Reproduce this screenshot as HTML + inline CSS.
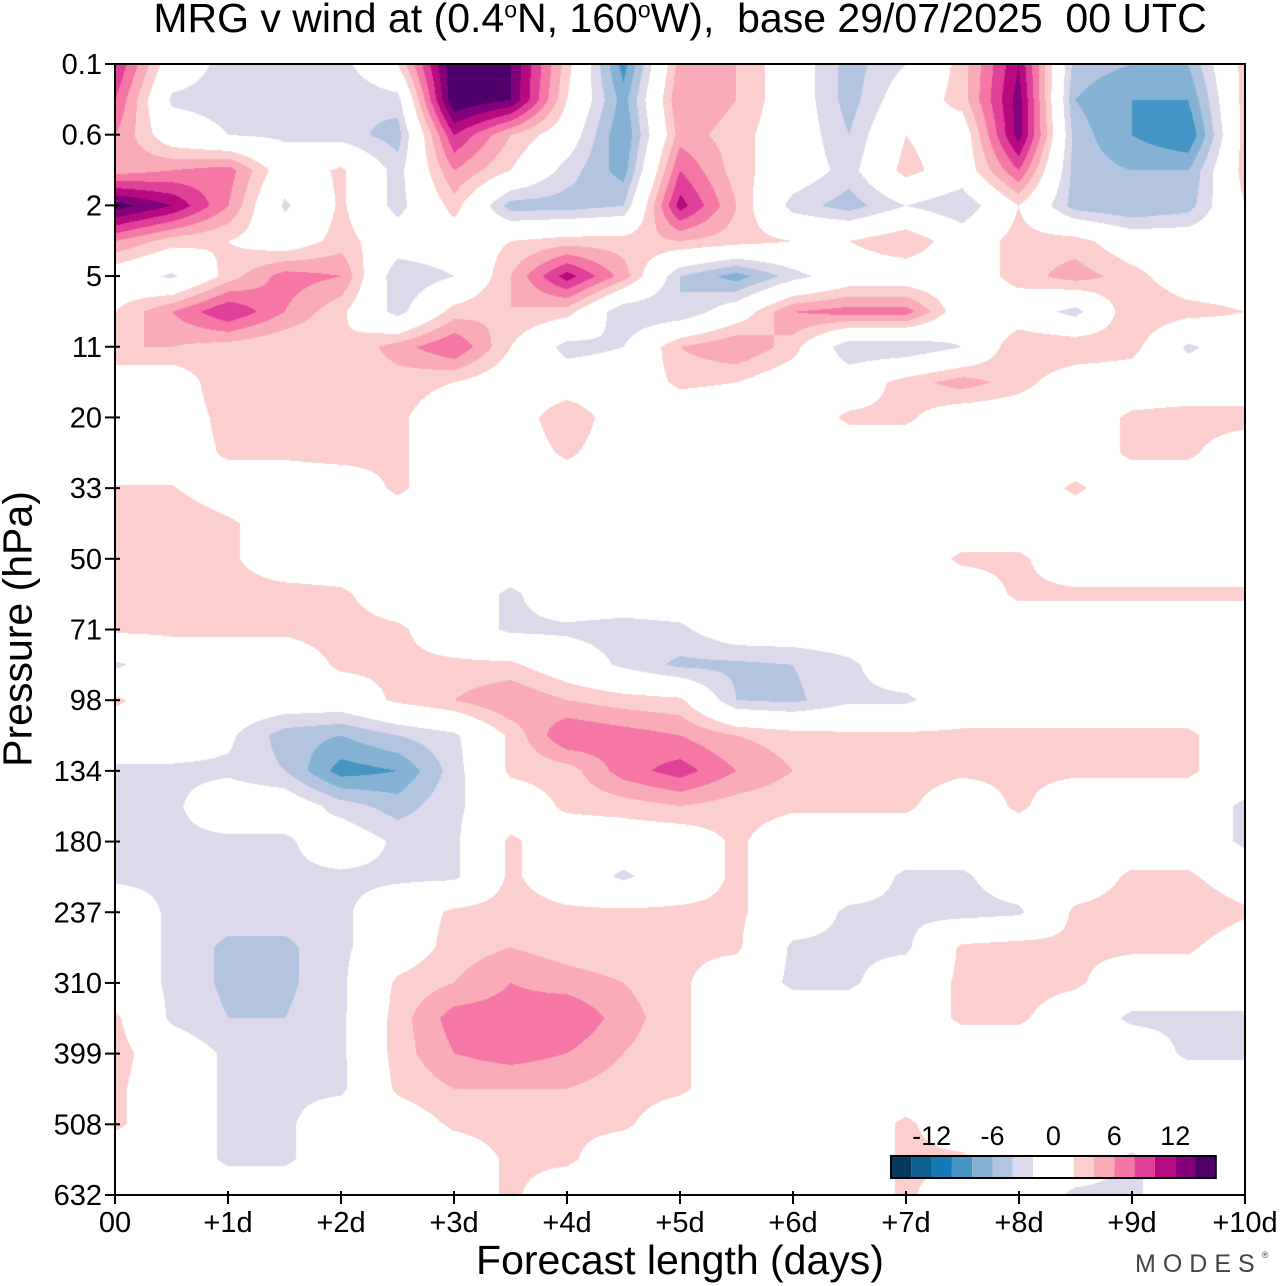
<!DOCTYPE html>
<html><head><meta charset="utf-8">
<style>
html,body{margin:0;padding:0;background:#fff;}
#root{position:relative;width:1280px;height:1286px;overflow:hidden;font-family:"Liberation Sans",Arial,sans-serif;color:#000;}
.t{position:absolute;white-space:nowrap;}
</style></head>
<body>
<div id="root">
<div class="t" style="left:0;width:1360px;text-align:center;top:-5px;font-size:41px;">MRG v wind at (0.4<sup style="font-size:23px">o</sup>N, 160<sup style="font-size:23px">o</sup>W),&nbsp; base 29/07/2025&nbsp; 00 UTC</div>
<canvas id="cv" width="1130" height="1131" style="position:absolute;left:115px;top:64px;"></canvas>
<svg id="ax" width="1280" height="1286" style="position:absolute;left:0;top:0;"></svg>
<div class="t" style="left:330px;width:700px;text-align:center;top:1237px;font-size:41px;">Forecast length (days)</div>
<div class="t" style="left:18px;top:629px;font-size:41px;transform:translate(-50%,-50%) rotate(-90deg);">Pressure (hPa)</div>
<div class="t" style="left:1135px;top:1250px;font-size:25px;letter-spacing:7px;color:#444;">MODES<span style="font-size:9px;vertical-align:top;letter-spacing:0">®</span></div>
</div>
<script>
const dayLabels=["00","+1d","+2d","+3d","+4d","+5d","+6d","+7d","+8d","+9d","+10d"];
const pressureLabels=["0.1","0.6","2","5","11","20","33","50","71","98","134","180","237","310","399","508","632"];
const levelBounds=[-14,-12,-10,-8,-6,-4,-2,2,4,6,8,10,12,14];
const levelColors=["#053a5c","#0f5e92","#1579b5","#4596c4","#85b2d4","#b3c5de","#dcdaea","#ffffff","#fccfcf","#f9abb8","#f577a6","#e14099","#b80a80","#82007a","#4e0068"];
const cbLabels=["-12","-6","0","6","12"];
// rows: half-tick pressure steps (33); columns: half-day steps (21)
const vwind=[
[10,0,-3,-4,-3,2,16,14,3,-9,5,4,0,-5,-2,3,12,-5,-6,-6,3],
[8,-2.5,-3,-3,-4,-3,16,14,2,-7,6,4,0,-5,0,3,13,-6,-8,-8,3],
[6,0,-2,-2.5,-3,-5,10,4,0,-8,5,3,0,-4,2,0,13,-5,-8,-10,3],
[5,6,7,0,2.5,-3,6,2,-3,-7,8,3,0,-3,3,0,8,-5,-6,-6,3],
[15,12,6,-2.5,2.5,-3,3,-5,-5,-4,11,4,-3,-5,-2,-4,2,-5,-6,-5,2],
[6,3,2,0,3,0,0,2,3,3,4,3,2,2,4,0,3,3,0,0,0],
[0,-2.5,3,7,6,-4,-2,4,11,5,-4,-7,-3,0,0,0,3,5,3,0,0],
[2,6,10,6,2.5,-3,3,4,3,-4,-4,0,6,7,7,0,0,-3,4,3,2],
[4,4,3,2,2,5,8,2,-3,-2,4,6,3,-4,-4,-2,4,4,3,-2.5,0],
[0,0,4,4,3,3,2,0,0,0,2.5,2,0,0,3,5,3,0,0,0,0],
[0,0,3,4,3,2.5,0,0,4,0,0,0,0,2.5,2.5,0,0,0,2.5,3,3],
[0,0,2.5,2.5,3,2.5,0,0,2.5,0,0,0,0,0,0,0,0,0,2.5,2.5,0],
[2.2,2.2,0,0,0,2.5,0,0,0,0,0,0,0,0,0,0,0,2.5,0,0,0],
[3,4,2.5,0,0,0,0,0,0,0,0,0,0,0,0,0,0,0,0,0,0],
[2.5,2.5,2.5,0,0,0,0,0,0,0,0,0,0,0,0,2.5,2.5,0,0,0,0],
[2.5,3,3,3,2.5,0,0,-2.5,0,0,0,0,0,0,0,0,2.5,2.5,2.5,2.5,2.5],
[2.5,2.5,2.5,2.5,3,2.5,0,-2.5,-2.5,-3,-2.5,0,0,0,0,0,0,0,0,0,0],
[-2.5,0,0,0,2.5,2.5,2.5,2.5,0,-2.5,-4.5,-4.5,-4,-2.5,0,0,0,0,0,0,0],
[2.5,0,0,0,0,2.5,4,6,4,3,2.5,-4,-4.5,-2.5,-2.5,0,0,0,0,0,0],
[0,0,-1.5,-5,-6,-4,-2.5,2.5,8,7,6,4,3,2.5,2.5,2.5,2.5,2.5,2.5,2.5,0],
[-2.5,-2.5,-2.5,-4,-9,-8,-3,2.5,3,7,9,6,4,3,3,2.5,2.5,2.5,2.5,2.5,0],
[-2.5,-2.5,0,0,-3,-5,-2.5,0,2.5,3,4,3,2.5,2.5,2.5,0,2.5,0,0,0,-2.5],
[-2.5,-2.5,-2.5,-2.5,0,-2.5,-2.5,2.5,0,0,0,2.5,0,0,0,0,0,0,0,0,-2.5],
[-2.5,-2.5,-2.5,-2.5,-2.5,-2.5,-2.5,2.5,0,-2.5,0,2.5,0,0,-2.5,-2.5,0,0,2.5,2.5,0],
[0,-2.5,-3,-3,-2.5,0,2.5,3,2.5,2.5,2.5,2.5,0,-2.5,-2.5,-3,-2.5,2.5,3,4,2.5],
[0,-2.5,-4.5,-4.5,-2.5,0,3,4,3,2.5,2.5,2.5,-2.5,-2.5,-2.5,2.5,3,2.5,2.5,2.5,0],
[0,-2.5,-4.5,-4.5,-2.5,2.5,4,6,5,4,2.5,0,-2.5,-2.5,0,2.5,3,2.5,0,0,0],
[2.5,-2.5,-4,-4,-2.5,3,7,7,8,5,2.5,0,0,0,0,2.5,2.5,0,-2.5,-2.5,-2.5],
[3,0,-2.5,-2.5,-2.5,3,6,7,6,4,2.5,0,0,0,0,0,0,0,0,-2.5,-2.5],
[2.5,0,-2.5,-2.5,-2.5,2.5,4,4,4,3,2.5,0,0,0,0,0,0,0,0,0,0],
[2.5,0,-2.5,-2.5,0,0,2.5,3,2.5,2.5,0,0,0,0,2.5,0,0,0,0,0,0],
[0,0,-2.5,-2.5,0,0,0,2.5,2.5,0,0,0,0,0,2.5,2.5,0,0,-2.5,0,0],
[0,0,0,0,0,0,0,2.5,0,0,0,0,0,0,2.5,0,0,-2.5,-2.5,0,0]
];
const X0=115,X1=1245,Y0=64,Y1=1195;
const xScale=d=>X0+(X1-X0)*d/10;
const yScale=i=>Y0+(Y1-Y0)*i/(pressureLabels.length-1);
function hex(c){return [parseInt(c.substr(1,2),16),parseInt(c.substr(3,2),16),parseInt(c.substr(5,2),16)];}
const rgb=levelColors.map(hex);
function colorIdx(v){let k=0;while(k<levelBounds.length&&v>=levelBounds[k])k++;return k;}
(function(){
 const cv=document.getElementById('cv');const ctx=cv.getContext('2d');
 const W=cv.width,H=cv.height;const img=ctx.createImageData(W,H);
 const nr=vwind.length,nc=vwind[0].length;
 for(let py=0;py<H;py++){
  const gy=py/(H-1)*(nr-1);const r=Math.min(Math.floor(gy),nr-2);const fy=gy-r;
  for(let px=0;px<W;px++){
   const gx=px/(W-1)*(nc-1);const c=Math.min(Math.floor(gx),nc-2);const fx=gx-c;
   const v=(vwind[r][c]*(1-fx)+vwind[r][c+1]*fx)*(1-fy)+(vwind[r+1][c]*(1-fx)+vwind[r+1][c+1]*fx)*fy;
   const col=rgb[colorIdx(v)];const o=(py*W+px)*4;
   img.data[o]=col[0];img.data[o+1]=col[1];img.data[o+2]=col[2];img.data[o+3]=255;
  }}
 ctx.putImageData(img,0,0);
 const svg=document.getElementById('ax');const NS='http://www.w3.org/2000/svg';
 function mk(tag,attrs){const e=document.createElementNS(NS,tag);for(const k in attrs)e.setAttribute(k,attrs[k]);svg.appendChild(e);return e;}
 const frame=mk('rect',{x:X0,y:Y0,width:X1-X0,height:Y1-Y0,fill:'none',stroke:'#000','stroke-width':2});
 
 
 dayLabels.forEach((lab,i)=>{
  const x=xScale(i);
  const tk=mk('line',{x1:x,x2:x,y1:Y1-4,y2:Y1+9,stroke:'#000','stroke-width':2});
  
  
  const t=mk('text',{x:x,y:1232,'text-anchor':'middle','font-size':29,'font-family':'Liberation Sans, sans-serif'});
  t.textContent=lab;
  
  
 });
 pressureLabels.forEach((lab,i)=>{
  const y=yScale(i);
  const tk=mk('line',{x1:X0-10,x2:X0+5,y1:y,y2:y,stroke:'#000','stroke-width':2});
  
  
  const t=mk('text',{x:102,y:y+10,'text-anchor':'end','font-size':29,'font-family':'Liberation Sans, sans-serif'});
  t.textContent=lab;
  
  
 });
 const cbx=891,cby=1156,bw=20.3,bh=22;
 let k=0;
 levelColors.forEach((c,i)=>{
  const w=(c==='#ffffff')?2*bw:bw;
  const r=mk('rect',{x:cbx+k*bw,y:cby,width:w,height:bh,fill:c});
  
  
  k+=(c==='#ffffff')?2:1;
 });
 const cbf=mk('rect',{x:cbx,y:cby,width:16*bw,height:bh,fill:'none',stroke:'#000','stroke-width':2});
 
 
 const cbPos=[2,5,8,11,14];
 cbLabels.forEach((lab,i)=>{
  const t=mk('text',{x:cbx+cbPos[i]*bw,y:1145,'text-anchor':'middle','font-size':27,'font-family':'Liberation Sans, sans-serif'});
  t.textContent=lab;
  
  
 });
})();
</script>
</body></html>
